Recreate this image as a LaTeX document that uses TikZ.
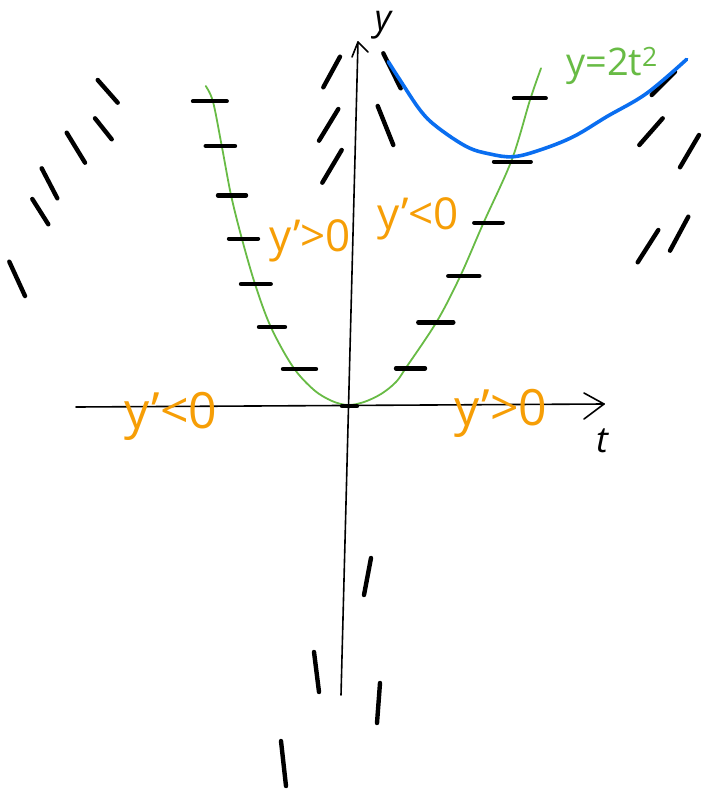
\documentclass[tikz,border=0pt]{standalone}
\usepackage{fontspec}
\setmainfont{Open Sans}
\usetikzlibrary{arrows.meta}
\definecolor{sketchorange}{RGB}{246,158,6}
\definecolor{sketchgreen}{RGB}{104,187,69}
\definecolor{sketchblue}{RGB}{10,110,240}
\tikzset{
  slopemark/.style={line width=4.4pt, line cap=round, black},
  axisline/.style={line width=1.6pt, line cap=round, black},
  chevron/.style={line width=1.6pt, line cap=round, line join=round, black},
  greencurve/.style={line width=1.8pt, sketchgreen, line cap=round},
  bluecurve/.style={line width=3.6pt, sketchblue, line cap=round, line join=round},
  signlabel/.style={text=sketchorange, font=\fontsize{50}{54}\selectfont, inner sep=0pt},
  midlabel/.style={text=sketchorange, font=\fontsize{44}{48}\selectfont, inner sep=0pt},
  axislabel/.style={text=black, font=\fontsize{36}{40}\selectfont\itshape, inner sep=0pt},
}
\begin{document}
\begin{tikzpicture}[x=1pt,y=-1pt]
\useasboundingbox (0,0) rectangle (702,789);

% axes
\coordinate (tstart) at (76,407);
\coordinate (tend) at (604,404);
\coordinate (ystart) at (341,695);
\coordinate (yend) at (358,42);
\draw[axisline] (tstart) -- (tend);
\draw[chevron] (584,393) -- (tend) -- (584,419);
\draw[axisline] (ystart) -- (yend);
\draw[chevron] (352,57) -- (yend) -- (368,52);
\node[axislabel] (tlab) at (602,441) {t};
\node[axislabel] (ylab) at (383,25) {y};

% green parabola y = 2t^2
\draw[greencurve] plot[smooth, tension=0.55] coordinates {
  (205.7,86) (213,101.7) (221.7,145.7) (231,195) (241.7,238) (255,284)
  (270.7,326.7) (293,367) (314,390) (332,401) (348,405) (364,402) (381,394)
  (396,382) (406.7,366.7) (436.7,321.7) (460,276.7) (483.3,223.3) (511.7,160) (530,100) (541,68.3)};
\node[text=sketchgreen, font=\fontsize{38}{42}\selectfont, inner sep=0pt] (glab) at (612,66) {y=2t\textsuperscript{2}};

% isocline ticks (horizontal)
\draw[slopemark] (193,101.3) -- (226.7,101.3);
\draw[slopemark] (205.7,146) -- (235,146);
\draw[slopemark] (218,195.3) -- (246,195.3);
\draw[slopemark] (229,238.7) -- (258,238.7);
\draw[slopemark] (241,284) -- (270.7,284);
\draw[slopemark] (259,327) -- (285,327);
\draw[slopemark] (283,369) -- (316,369);
\draw[slopemark] (342,406) -- (357,406);
\draw[slopemark] (396,368.3) -- (425,368.3);
\draw[slopemark] (418.3,322.3) -- (453.3,322.3);
\draw[slopemark] (448.3,276) -- (479.3,276);
\draw[slopemark] (474.3,222.7) -- (502.7,222.7);
\draw[slopemark] (494,161.7) -- (530.7,161.7);
\draw[slopemark] (514,98.3) -- (545.7,98.3);

% slope marks elsewhere
\draw[slopemark] (97.7,80) -- (117.7,102.7);
\draw[slopemark] (95,118.3) -- (111.7,139.3);
\draw[slopemark] (66.7,132.7) -- (85,162.7);
\draw[slopemark] (41.7,168.3) -- (57.3,198.3);
\draw[slopemark] (32.3,199) -- (48.3,224.3);
\draw[slopemark] (9.3,261.7) -- (25,296);
\draw[slopemark] (340,56.7) -- (323.3,87.3);
\draw[slopemark] (338.3,109) -- (319,140.7);
\draw[slopemark] (341.7,150) -- (322.3,182.7);
\draw[slopemark] (383.3,53.3) -- (400.7,88.3);
\draw[slopemark] (377.7,106) -- (393.3,145);
\draw[slopemark] (651.7,95) -- (675,71.7);
\draw[slopemark] (639.3,145) -- (662.7,118.3);
\draw[slopemark] (680,167.3) -- (699,135);
\draw[slopemark] (637.7,262.3) -- (658.3,230);
\draw[slopemark] (670,250.7) -- (688.3,216.7);
\draw[slopemark] (371,558) -- (364,595);
\draw[slopemark] (314,652) -- (319,692);
\draw[slopemark] (380,683) -- (377,723);
\draw[slopemark] (281,741) -- (286,786);

% blue solution curve
\draw[bluecurve] plot[smooth, tension=0.6] coordinates {
  (388.3,61.7) (400,80) (420,110) (436.7,126.7) (466.7,146.7) (490,154)
  (513.3,156.7) (540,150) (573.3,136.7) (606.7,116.7) (646.7,93.3) (686.7,59.3)};

% sign labels
\node[signlabel] (lneg) at (171,416) {y'<0};
\node[signlabel] (rpos) at (501,413) {y'>0};
\node[midlabel] (mpos) at (310,241) {y'>0};
\node[midlabel] (mneg) at (418,219) {y'<0};
\end{tikzpicture}
\end{document}
